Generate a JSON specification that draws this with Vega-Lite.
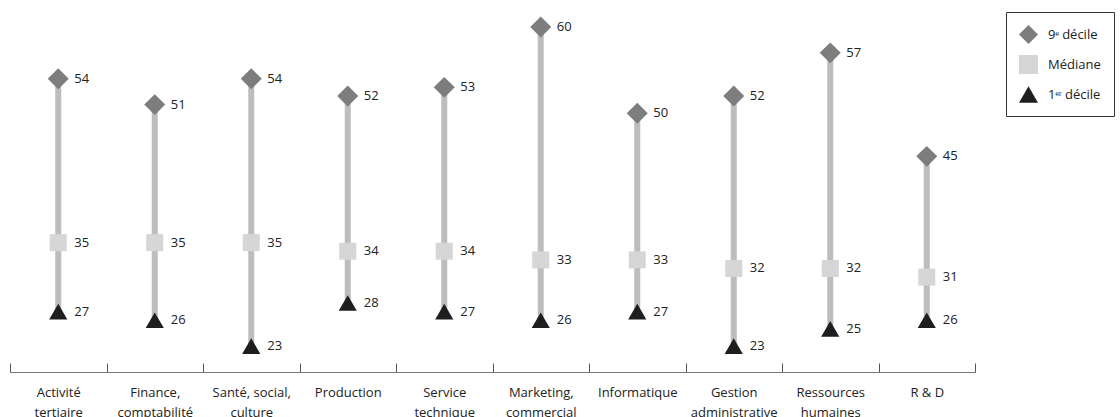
{
  "$schema": "https://vega.github.io/schema/vega-lite/v6.json",
  "width": 965,
  "height": 372,
  "autosize": {"type": "none"},
  "padding": {"left": 10, "top": 0, "right": 145, "bottom": 45},
  "background": "white",
  "config": {"view": {"stroke": null}, "font": "Open Sans"},
  "data": {
    "values": [
      {"cat": "Activité\ntertiaire", "d1": 27, "med": 35, "d9": 54},
      {"cat": "Finance,\ncomptabilité", "d1": 26, "med": 35, "d9": 51},
      {"cat": "Santé, social,\nculture", "d1": 23, "med": 35, "d9": 54},
      {"cat": "Production", "d1": 28, "med": 34, "d9": 52},
      {"cat": "Service\ntechnique", "d1": 27, "med": 34, "d9": 53},
      {"cat": "Marketing,\ncommercial", "d1": 26, "med": 33, "d9": 60},
      {"cat": "Informatique", "d1": 27, "med": 33, "d9": 50},
      {"cat": "Gestion\nadministrative", "d1": 23, "med": 32, "d9": 52},
      {"cat": "Ressources\nhumaines", "d1": 25, "med": 32, "d9": 57},
      {"cat": "R & D", "d1": 26, "med": 31, "d9": 45}
    ]
  },
  "encoding": {
    "x": {
      "field": "cat",
      "type": "nominal",
      "sort": null,
      "title": null,
      "scale": {"type": "band", "paddingInner": 0, "paddingOuter": 0},
      "axis": {
        "labelExpr": "isValid(datum.value) ? split(datum.value, '\\n') : ''",
        "labelAngle": 0,
        "labelFont": "Open Sans",
        "labelFontSize": 13,
        "labelColor": "#222",
        "labelLineHeight": 20,
        "labelBaseline": "top",
        "labelPadding": 23,
        "tickBand": "extent",
        "tickSize": -9,
        "tickColor": "#555",
        "domainColor": "#777",
        "domainWidth": 1,
        "grid": false
      }
    }
  },
  "layer": [
    {
      "mark": {"type": "rule", "strokeWidth": 6, "color": "#bdbdbd"},
      "encoding": {
        "y": {
          "field": "d1",
          "type": "quantitative",
          "scale": {"domain": [20, 63.13], "nice": false, "zero": false},
          "axis": null
        },
        "y2": {"field": "d9"}
      }
    },
    {
      "transform": [{"fold": ["d9", "med", "d1"], "as": ["stat", "value"]}],
      "layer": [
        {
          "mark": {"type": "point", "filled": true, "opacity": 1, "strokeWidth": 0},
          "encoding": {
            "y": {"field": "value", "type": "quantitative"},
            "shape": {
              "field": "stat",
              "type": "nominal",
              "scale": {"domain": ["d9", "med", "d1"], "range": ["diamond", "square", "triangle-up"]},
              "legend": {
                "title": null,
                "orient": "none",
                "legendX": 996,
                "legendY": 12,
                "labelExpr": "datum.value == 'd9' ? '9ᵉ décile' : datum.value == 'med' ? 'Médiane' : '1ᵉʳ décile'",
                "strokeColor": "#333",
                "padding": 13,
                "labelFont": "Open Sans",
                "labelFontSize": 13,
                "labelColor": "#222",
                "symbolSize": 360,
                "symbolOpacity": 1,
                "symbolStrokeWidth": 0,
                "rowPadding": 11,
                "labelOffset": 10
              }
            },
            "color": {
              "field": "stat",
              "type": "nominal",
              "scale": {"domain": ["d9", "med", "d1"], "range": ["#7d7d7d", "#d6d6d6", "#1e1e1e"]},
              "legend": {
                "title": null,
                "orient": "none",
                "legendX": 996,
                "legendY": 12,
                "labelExpr": "datum.value == 'd9' ? '9ᵉ décile' : datum.value == 'med' ? 'Médiane' : '1ᵉʳ décile'",
                "strokeColor": "#333",
                "padding": 13,
                "labelFont": "Open Sans",
                "labelFontSize": 13,
                "labelColor": "#222",
                "symbolSize": 360,
                "symbolOpacity": 1,
                "symbolStrokeWidth": 0,
                "rowPadding": 11,
                "labelOffset": 10
              }
            },
            "size": {
              "condition": [
                {"test": "datum.stat == 'd9'", "value": 440},
                {"test": "datum.stat == 'd1'", "value": 330}
              ],
              "value": 290
            }
          }
        },
        {
          "mark": {"type": "text", "align": "left", "baseline": "middle", "dx": 16, "fontSize": 13, "font": "Open Sans", "color": "#222"},
          "encoding": {
            "y": {"field": "value", "type": "quantitative"},
            "text": {"field": "value", "type": "quantitative"}
          }
        }
      ]
    }
  ]
}
